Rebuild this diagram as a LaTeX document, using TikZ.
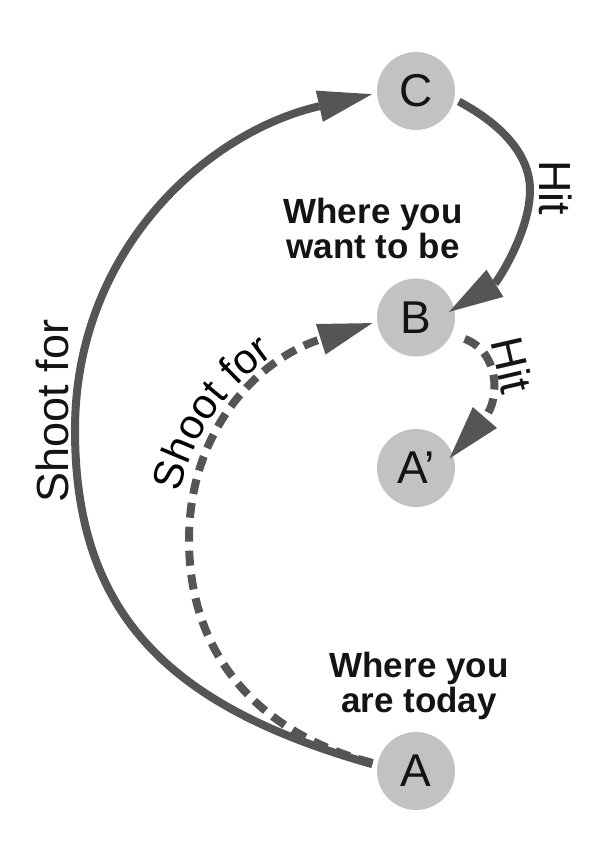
\documentclass[tikz,border=0pt]{standalone}
\usepackage{fontspec}
\setmainfont{Liberation Sans}
\usetikzlibrary{arrows.meta,decorations.text}
\definecolor{linegray}{HTML}{555555}
\definecolor{circgray}{HTML}{C2C2C2}
\definecolor{txt}{HTML}{141414}
\newcommand\nodefont{\fontsize{46}{46}\selectfont}
\newcommand\sidefont{\fontsize{45}{45}\selectfont}
\newcommand\curvefont{\fontsize{42}{42}\selectfont}
\newcommand\headfont{\fontsize{35}{35}\selectfont\bfseries}
\begin{document}
\begin{tikzpicture}[x=1pt,y=-1pt,
  place/.style={circle, fill=circgray, minimum size=78pt, inner sep=0pt, text=txt, font=\nodefont},
  conn/.style={draw=linegray, line width=8pt, -{Triangle[length=54pt,width=32pt,line width=0pt]}},
  dashconn/.style={conn, dash pattern=on 15pt off 9pt},
  sidelabel/.style={text=txt, font=\sidefont, inner sep=0pt},
  headlabel/.style={text=txt, font=\headfont, align=center, inner sep=0pt, anchor=north}]
\useasboundingbox (0,0) rectangle (611,850);
\node[place] (C) at (416,91) {C};
\node[place] (B) at (416,317.5) {B};
\node[place] (Ap) at (416,468) {A’};
\node[place] (A) at (416,771) {A};

\node[headlabel] (want) at (373,198) {Where you\\want to be};
\node[headlabel] (today) at (419,652) {Where you\\are today};

% Shoot for (solid)
\draw[conn, shorten <=5pt, shorten >=5pt] (A.172) .. controls (170,707) and (75,615) .. (75,430)
   .. controls (75,250) and (207,132) .. (C.183);
% Shoot for (dashed)
\draw[dashconn, shorten <=5pt, shorten >=5pt] (A.170) .. controls (264,735) and (189,660) .. (189,540)
   .. controls (189,430) and (258,359) .. (B.186);
% Hit C -> B
\draw[conn, shorten <=5pt, shorten >=-6pt] (C.-12) .. controls (490,118) and (530,148) .. (530,190)
   .. controls (530,232) and (497,282) .. (B.13);
% Hit B -> A'
\draw[dashconn, shorten <=14pt, shorten >=-5pt] (B.-25) .. controls (500,352) and (500,400) .. (Ap.20);

\node[sidelabel, rotate=90] (shootL) at (52,411) {Shoot for};
\node[sidelabel, rotate=-90] (hit1) at (556,188) {Hit};
\node[sidelabel, rotate=-77] (hit2) at (512,365) {Hit};
\path[decorate, decoration={text along path, text={|\curvefont|Shoot for}, text align={left indent=48pt}}]
  (175,540) .. controls (175,426) and (253,346) .. (368,309);
\end{tikzpicture}
\end{document}
